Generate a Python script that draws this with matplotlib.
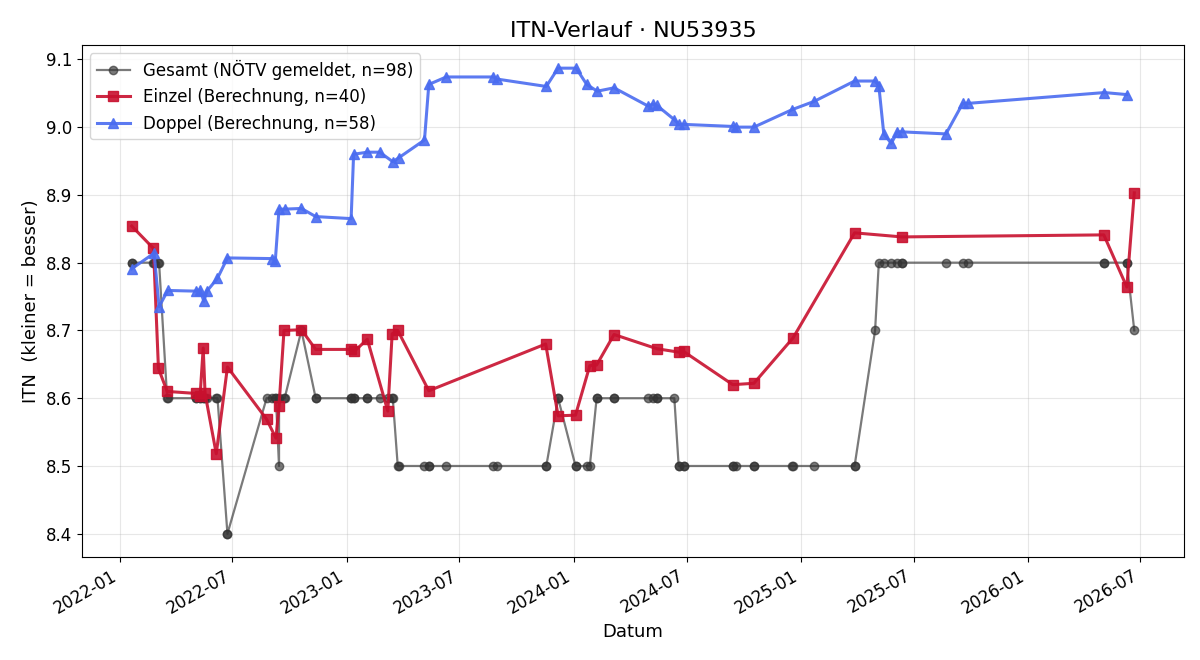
import matplotlib
matplotlib.use("Agg")
import matplotlib.pyplot as plt
import matplotlib.dates as mdates
import pandas as pd

einzel_dates = ["2022-01-20", "2022-02-24", "2022-03-04", "2022-03-18", "2022-05-04",
                "2022-05-10", "2022-05-15", "2022-05-18", "2022-06-05", "2022-06-23",
                "2022-08-25", "2022-09-09", "2022-09-14", "2022-09-22", "2022-10-20",
                "2022-11-12", "2023-01-07", "2023-01-13", "2023-02-03", "2023-03-08",
                "2023-03-15", "2023-03-24", "2023-05-13", "2023-11-17", "2023-12-07",
                "2024-01-04", "2024-01-27", "2024-02-07", "2024-03-06", "2024-05-14",
                "2024-06-18", "2024-06-26", "2024-09-13", "2024-10-17", "2024-12-19",
                "2025-03-28", "2025-06-12", "2026-05-03", "2026-06-09", "2026-06-21"]
einzel_itn = [8.854, 8.821, 8.644, 8.610, 8.607,
              8.604, 8.674, 8.607, 8.518, 8.646,
              8.569, 8.541, 8.589, 8.700, 8.701,
              8.672, 8.672, 8.669, 8.687, 8.581,
              8.695, 8.700, 8.611, 8.680, 8.574,
              8.575, 8.648, 8.649, 8.694, 8.673,
              8.668, 8.669, 8.620, 8.622, 8.689,
              8.844, 8.838, 8.841, 8.764, 8.903]

doppel_dates = ["2022-01-20", "2022-02-25", "2022-03-05", "2022-03-19", "2022-05-03",
                "2022-05-10", "2022-05-16", "2022-05-21", "2022-06-07", "2022-06-23",
                "2022-09-03", "2022-09-08", "2022-09-14", "2022-09-23", "2022-10-20",
                "2022-11-12", "2023-01-08", "2023-01-12", "2023-02-03", "2023-02-23",
                "2023-03-16", "2023-03-26", "2023-05-06", "2023-05-13", "2023-06-10",
                "2023-08-25", "2023-08-30", "2023-11-18", "2023-12-07", "2024-01-05",
                "2024-01-22", "2024-02-08", "2024-03-06", "2024-04-30", "2024-05-07",
                "2024-05-14", "2024-06-11", "2024-06-18", "2024-06-27", "2024-09-13",
                "2024-09-18", "2024-10-17", "2024-12-18", "2025-01-22", "2025-03-28",
                "2025-04-30", "2025-05-06", "2025-05-14", "2025-05-26", "2025-06-05",
                "2025-06-12", "2025-08-22", "2025-09-18", "2025-09-26", "2026-05-04",
                "2026-06-09"]
doppel_itn = [8.791, 8.814, 8.735, 8.759, 8.758,
              8.760, 8.743, 8.758, 8.777, 8.807,
              8.806, 8.803, 8.879, 8.879, 8.880,
              8.868, 8.865, 8.960, 8.963, 8.963,
              8.949, 8.955, 8.981, 9.063, 9.074,
              9.074, 9.071, 9.060, 9.087, 9.087,
              9.063, 9.053, 9.058, 9.031, 9.034,
              9.032, 9.011, 9.004, 9.004, 9.001,
              9.000, 9.000, 9.026, 9.038, 9.068,
              9.068, 9.061, 8.990, 8.976, 8.993,
              8.993, 8.990, 9.035, 9.035, 9.051,
              9.048]

gesamt_dates = ["2022-01-20", "2022-01-20", "2022-02-24", "2022-02-25", "2022-03-04",
                "2022-03-05", "2022-03-18", "2022-03-19", "2022-05-03", "2022-05-04",
                "2022-05-10", "2022-05-10", "2022-05-15", "2022-05-16", "2022-05-18",
                "2022-05-21", "2022-06-05", "2022-06-07", "2022-06-23", "2022-06-23",
                "2022-08-25", "2022-09-03", "2022-09-08", "2022-09-09", "2022-09-14",
                "2022-09-14", "2022-09-22", "2022-09-23", "2022-10-20", "2022-10-20",
                "2022-11-12", "2022-11-12", "2023-01-07", "2023-01-08", "2023-01-12",
                "2023-01-13", "2023-02-03", "2023-02-03", "2023-02-23", "2023-03-08",
                "2023-03-15", "2023-03-16", "2023-03-24", "2023-03-26", "2023-05-06",
                "2023-05-13", "2023-05-13", "2023-06-10", "2023-08-25", "2023-08-30",
                "2023-11-17", "2023-11-18", "2023-12-07", "2023-12-07", "2024-01-04",
                "2024-01-05", "2024-01-22", "2024-01-27", "2024-02-07", "2024-02-08",
                "2024-03-06", "2024-03-06", "2024-04-30", "2024-05-07", "2024-05-14",
                "2024-05-14", "2024-06-11", "2024-06-18", "2024-06-18", "2024-06-26",
                "2024-06-27", "2024-09-13", "2024-09-13", "2024-09-18", "2024-10-17",
                "2024-10-17", "2024-12-18", "2024-12-19", "2025-01-22", "2025-03-28",
                "2025-03-28", "2025-04-30", "2025-05-06", "2025-05-14", "2025-05-26",
                "2025-06-05", "2025-06-12", "2025-06-12", "2025-08-22", "2025-09-18",
                "2025-09-26", "2026-05-03", "2026-05-04", "2026-06-09", "2026-06-09",
                "2026-06-21"]
gesamt_itn = [8.8, 8.8, 8.8, 8.8, 8.8,
              8.8, 8.6, 8.6, 8.6, 8.6,
              8.6, 8.6, 8.6, 8.6, 8.6,
              8.6, 8.6, 8.6, 8.4, 8.4,
              8.6, 8.6, 8.6, 8.6, 8.5,
              8.6, 8.6, 8.6, 8.7, 8.7,
              8.6, 8.6, 8.6, 8.6, 8.6,
              8.6, 8.6, 8.6, 8.6, 8.6,
              8.6, 8.6, 8.5, 8.5, 8.5,
              8.5, 8.5, 8.5, 8.5, 8.5,
              8.5, 8.5, 8.6, 8.6, 8.5,
              8.5, 8.5, 8.5, 8.6, 8.6,
              8.6, 8.6, 8.6, 8.6, 8.6,
              8.6, 8.6, 8.5, 8.5, 8.5,
              8.5, 8.5, 8.5, 8.5, 8.5,
              8.5, 8.5, 8.5, 8.5, 8.5,
              8.5, 8.7, 8.8, 8.8, 8.8,
              8.8, 8.8, 8.8, 8.8, 8.8,
              8.8, 8.8, 8.8, 8.8, 8.8,
              8.7]

fig, ax = plt.subplots(figsize=(12, 6.6), dpi=100)

ax.plot(pd.to_datetime(gesamt_dates), gesamt_itn, marker="o", color="#333333",
        alpha=0.65, linewidth=1.6, markersize=6, label="Gesamt (NÖTV gemeldet, n=98)")
ax.plot(pd.to_datetime(einzel_dates), einzel_itn, marker="s", color="#C8102E",
        alpha=0.9, linewidth=2.2, markersize=7, label="Einzel (Berechnung, n=40)")
ax.plot(pd.to_datetime(doppel_dates), doppel_itn, marker="^", color="#4a6cf0",
        alpha=0.9, linewidth=2.2, markersize=7, label="Doppel (Berechnung, n=58)")

ax.set_title("ITN-Verlauf · NU53935", fontsize=16)
ax.set_xlabel("Datum", fontsize=13)
ax.set_ylabel("ITN  (kleiner = besser)", fontsize=13)
ax.tick_params(labelsize=12)
ax.grid(True, alpha=0.3)
ax.legend(loc="upper left", fontsize=12)

ax.xaxis.set_major_locator(mdates.MonthLocator(bymonth=[1, 7]))
ax.xaxis.set_major_formatter(mdates.DateFormatter("%Y-%m"))
fig.autofmt_xdate()

fig.subplots_adjust(left=0.068, right=0.987, top=0.932, bottom=0.156)
fig.savefig("out.png", dpi=100)
